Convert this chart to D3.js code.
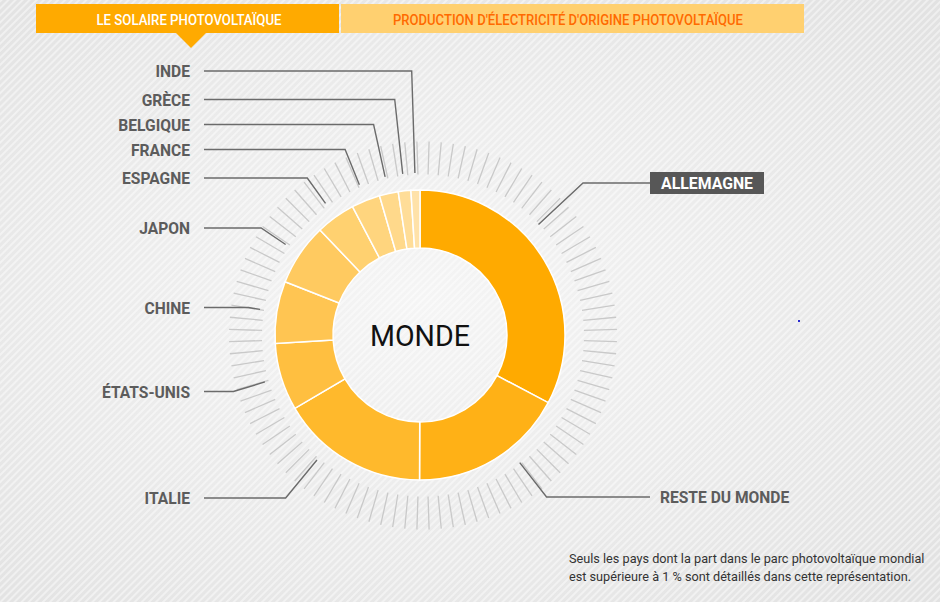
<!DOCTYPE html>
<html><head><meta charset="utf-8">
<script src="https://cdn.jsdelivr.net/npm/d3@7"></script>
<style>html,body{margin:0;padding:0;background:#ececec;}svg{display:block;}</style>
</head><body>
<svg id="chart" width="940" height="602"></svg>
<script>
// ---- DATA ----
const countries = ["ALLEMAGNE","RESTE DU MONDE","ITALIE","ÉTATS-UNIS","CHINE","JAPON","ESPAGNE","FRANCE","BELGIQUE","GRÈCE","INDE"];
const shares    = [32.7, 17.3, 16.5, 7.5, 6.9, 6.9, 4.4, 3.2, 2.1, 1.4, 1.0];
const tabLabels = ["LE SOLAIRE PHOTOVOLTAÏQUE", "PRODUCTION D'ÉLECTRICITÉ D'ORIGINE PHOTOVOLTAÏQUE"];
const centerLabel = "MONDE";
const noteLines = ["Seuls les pays dont la part dans le parc photovoltaïque mondial",
                   "est supérieure à 1 % sont détaillés dans cette représentation."];

// ---- LAYOUT / STYLE ----
const sliceColors = ["#ffaa00","#ffb116","#ffb92c","#ffbf40","#ffc552","#ffca60","#ffd170","#ffd57e","#ffd98b","#ffdd98","#ffe2a9"];
const cx = 420, cy = 335, rOuter = 145, rInner = 87;
const labelLayout = {
  "ALLEMAGNE":      {side:"right", y:183, angle:47, box:true},
  "RESTE DU MONDE": {side:"right", y:497, angle:142},
  "ITALIE":         {side:"left",  y:498, angle:219.5},
  "ÉTATS-UNIS":     {side:"left",  y:391.5},
  "CHINE":          {side:"left",  y:307.5},
  "JAPON":          {side:"left",  y:228},
  "ESPAGNE":        {side:"left",  y:178},
  "FRANCE":         {side:"left",  y:149.5},
  "BELGIQUE":       {side:"left",  y:124.5},
  "GRÈCE":          {side:"left",  y:99.5},
  "INDE":           {side:"left",  y:71}
};

const svg = d3.select("#chart");
const defs = svg.append("defs");
const rg = defs.append("radialGradient").attr("id","bg").attr("cx","45%").attr("cy","50%").attr("r","70%");
rg.append("stop").attr("offset","0%").attr("stop-color","#f5f5f5");
rg.append("stop").attr("offset","100%").attr("stop-color","#e2e2e2");
const pat = defs.append("pattern").attr("id","stripes").attr("patternUnits","userSpaceOnUse")
  .attr("width",5).attr("height",5).attr("patternTransform","rotate(45)");
pat.append("rect").attr("x",0).attr("y",0).attr("width",2).attr("height",5).attr("fill","#ffffff").attr("opacity",0.45);

svg.append("rect").attr("width",940).attr("height",602).attr("fill","url(#bg)");
svg.append("rect").attr("width",940).attr("height",602).attr("fill","url(#stripes)");

// ---- Tabs ----
svg.append("rect").attr("x",36).attr("y",4).attr("width",303).attr("height",29).attr("fill","#ffaa00");
svg.append("rect").attr("x",341).attr("y",4).attr("width",463).attr("height",29).attr("fill","#ffd070");
svg.append("path").attr("d","M176,33 L206,33 L191,48 Z").attr("fill","#ffaa00");
svg.append("text").attr("x",189).attr("y",24.5).attr("text-anchor","middle")
  .attr("font-family","Roboto").attr("font-weight",500).attr("font-size",14.5).attr("fill","#ffffff")
  .attr("textLength",185).attr("lengthAdjust","spacingAndGlyphs").text(tabLabels[0]);
svg.append("text").attr("x",568).attr("y",24.5).attr("text-anchor","middle")
  .attr("font-family","Roboto").attr("font-weight",500).attr("font-size",14.5).attr("fill","#ff6a00")
  .attr("textLength",350).attr("lengthAdjust","spacingAndGlyphs").text(tabLabels[1]);

// ---- Data structures ----
const data = countries.map((c,i)=>({name:c, value:shares[i], color:sliceColors[i]}));
const pie = d3.pie().value(d=>d.value).sort(null);
const arcs = pie(data);
const arc = d3.arc().innerRadius(rInner).outerRadius(rOuter);

// ---- Tick ring ----
const tcx = 423, tcy = 335.5, tr0 = 161, tr1 = 194;
const tickAngles = d3.range(100).map(i => 1.8 + 3.6*i);
svg.append("g").selectAll("line").data(tickAngles).join("line")
  .attr("x1", a => tcx + tr0*Math.sin(a*Math.PI/180))
  .attr("y1", a => tcy - tr0*Math.cos(a*Math.PI/180))
  .attr("x2", a => tcx + tr1*Math.sin(a*Math.PI/180))
  .attr("y2", a => tcy - tr1*Math.cos(a*Math.PI/180))
  .attr("stroke","#c9c9c9").attr("stroke-width",1.3);

// ---- Donut ----
const g = svg.append("g").attr("transform",`translate(${cx},${cy})`);
g.selectAll("path").data(arcs).join("path")
  .attr("d", arc).attr("fill", d=>d.data.color)
  .attr("stroke","#ffffff").attr("stroke-width",1.5);

svg.append("text").attr("x",cx).attr("y",cy+11).attr("text-anchor","middle")
  .attr("font-family","Roboto").attr("font-weight",400).attr("font-size",30).attr("fill","#111")
  .attr("textLength",100).attr("lengthAdjust","spacingAndGlyphs").text(centerLabel);

// ---- Labels and connectors ----
const gLab = svg.append("g");
arcs.forEach(d=>{
  const L = labelLayout[d.data.name];
  const midDeg = (d.startAngle + d.endAngle)/2 * 180/Math.PI;
  const aDeg = L.angle !== undefined ? L.angle : midDeg;
  const a = aDeg*Math.PI/180;
  const rs = 162;
  const x0 = cx + rs*Math.sin(a), y0 = cy - rs*Math.cos(a);
  const re = (cy - L.y)/Math.cos(a);
  const x1 = cx + re*Math.sin(a), y1 = L.y;
  const xEnd = L.side === "left" ? 204 : 650;
  gLab.append("path").attr("d",`M${x0},${y0} L${x1},${y1} L${xEnd},${y1}`)
    .attr("fill","none").attr("stroke","#6b6b6b").attr("stroke-width",1.4);
  if (L.box) {
    gLab.append("rect").attr("x",650).attr("y",L.y-11).attr("width",114).attr("height",22).attr("fill","#575757");
    gLab.append("text").attr("x",707).attr("y",L.y+6).attr("text-anchor","middle")
      .attr("font-family","Roboto").attr("font-weight",700).attr("font-size",16).attr("fill","#ffffff")
      .attr("textLength",92).attr("lengthAdjust","spacingAndGlyphs").text(d.data.name);
  } else {
    gLab.append("text").attr("x", L.side==="left" ? 190 : 660).attr("y",L.y+6)
      .attr("text-anchor", L.side==="left" ? "end" : "start")
      .attr("font-family","Roboto").attr("font-weight",700).attr("font-size",15.6).attr("fill","#5c5c5c")
      .text(d.data.name);
  }
});

// ---- Note ----
svg.append("g").selectAll("text").data(noteLines).join("text")
  .attr("x",569).attr("y",(d,i)=>563+i*17.5)
  .attr("font-family","Roboto").attr("font-size",12.7).attr("fill","#333")
  .text(d=>d);

svg.append("rect").attr("x",798).attr("y",320).attr("width",2).attr("height",2).attr("fill","#2a2ad0");
</script>
</body></html>
